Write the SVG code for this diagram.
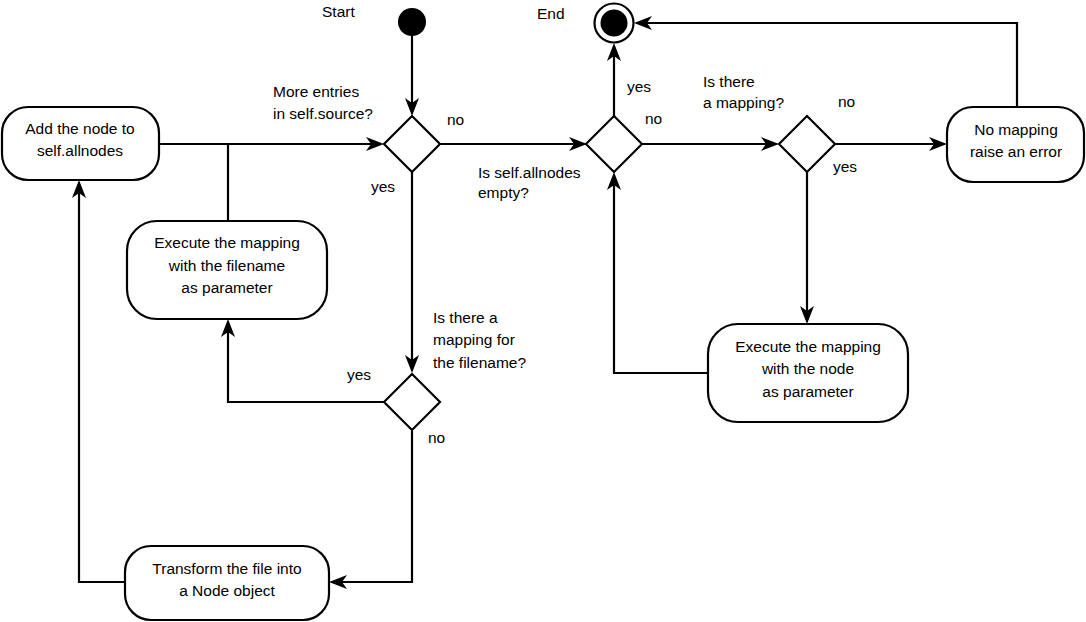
<svg xmlns="http://www.w3.org/2000/svg" width="1086" height="622" viewBox="0 0 1086 622">
  <style>
    .box { fill: #ffffff; stroke: #000000; stroke-width: 2.2; }
    .dec { fill: #ffffff; stroke: #000000; stroke-width: 2.2; }
    .wire { fill: none; stroke: #000000; stroke-width: 2.2; }
    .arrow { marker-end: url(#head); }
    text { font-family: "Liberation Sans", Arial, sans-serif; font-size: 15.5px; fill: #000000; }
    .c { text-anchor: middle; }
  </style>
  <defs>
    <marker id="head" viewBox="0 0 18 14" refX="14" refY="7" markerWidth="18" markerHeight="14" markerUnits="userSpaceOnUse" orient="auto">
      <path d="M0,0 L18,7 L0,14 L5,7 Z" fill="#000000"/>
    </marker>
  </defs>
  <rect width="1086" height="622" fill="#ffffff"/>

  <!-- connectors -->
  <g id="connectors">
    <path class="wire arrow" d="M412,36 V112"/>
    <path class="wire arrow" d="M159,144 H380"/>
    <path class="wire" d="M228,221 V144"/>
    <path class="wire arrow" d="M412,172 V369"/>
    <path class="wire arrow" d="M384,402 H228 V323"/>
    <path class="wire arrow" d="M412,431 V582 H333"/>
    <path class="wire arrow" d="M125,582 H79 V184"/>
    <path class="wire arrow" d="M440,144 H583"/>
    <path class="wire arrow" d="M614,116 V47"/>
    <path class="wire arrow" d="M642,144 H775"/>
    <path class="wire arrow" d="M835,144 H943"/>
    <path class="wire arrow" d="M807,172 V320"/>
    <path class="wire arrow" d="M708,373 H614 V176"/>
    <path class="wire arrow" d="M1017,107 V23 H638"/>
  </g>

  <!-- edge labels -->
  <g id="labels">
    <text x="371" y="192">yes</text>
    <text x="447" y="125">no</text>
    <text x="627" y="92">yes</text>
    <text x="645" y="124">no</text>
    <text x="838" y="107">no</text>
    <text x="833" y="172">yes</text>
    <text x="347" y="380">yes</text>
    <text x="428" y="443">no</text>
  </g>

  <!-- start / end -->
  <g id="start">
    <circle cx="412" cy="22" r="14" fill="#000000"/>
    <text x="322" y="17">Start</text>
  </g>
  <g id="end">
    <circle cx="614" cy="23" r="19.5" fill="#ffffff" stroke="#000000" stroke-width="2.2"/>
    <circle cx="614" cy="23" r="13.5" fill="#000000"/>
    <text x="537" y="19">End</text>
  </g>

  <!-- decisions -->
  <g id="more-entries">
    <polygon class="dec" points="412,116 440,144 412,172 384,144"/>
    <text x="273" y="97">More entries</text>
    <text x="273" y="119">in self.source?</text>
  </g>
  <g id="allnodes-empty">
    <polygon class="dec" points="614,116 642,144 614,172 586,144"/>
    <text x="478" y="178">Is self.allnodes</text>
    <text x="478" y="198">empty?</text>
  </g>
  <g id="node-mapping">
    <polygon class="dec" points="807,116 835,144 807,172 779,144"/>
    <text x="703" y="87">Is there</text>
    <text x="703" y="108">a mapping?</text>
  </g>
  <g id="filename-mapping">
    <polygon class="dec" points="412,374 440,402 412,430 384,402"/>
    <text x="433" y="323">Is there a</text>
    <text x="433" y="345">mapping for</text>
    <text x="433" y="368">the filename?</text>
  </g>

  <!-- actions -->
  <g id="add-node">
    <rect class="box" x="2" y="107" width="157" height="73" rx="26"/>
    <text class="c" x="80" y="134">Add the node to</text>
    <text class="c" x="80" y="156">self.allnodes</text>
  </g>
  <g id="exec-filename">
    <rect class="box" x="127" y="221" width="200" height="98" rx="30"/>
    <text class="c" x="227" y="248">Execute the mapping</text>
    <text class="c" x="227" y="271">with the filename</text>
    <text class="c" x="227" y="293">as parameter</text>
  </g>
  <g id="transform">
    <rect class="box" x="125" y="546" width="204" height="74" rx="26"/>
    <text class="c" x="227" y="574">Transform the file into</text>
    <text class="c" x="227" y="596">a Node object</text>
  </g>
  <g id="exec-node">
    <rect class="box" x="708" y="324" width="200" height="98" rx="30"/>
    <text class="c" x="808" y="352">Execute the mapping</text>
    <text class="c" x="808" y="374">with the node</text>
    <text class="c" x="808" y="397">as parameter</text>
  </g>
  <g id="no-mapping">
    <rect class="box" x="947" y="107" width="137" height="75" rx="26"/>
    <text class="c" x="1016" y="135">No mapping</text>
    <text class="c" x="1016" y="157">raise an error</text>
  </g>
</svg>
